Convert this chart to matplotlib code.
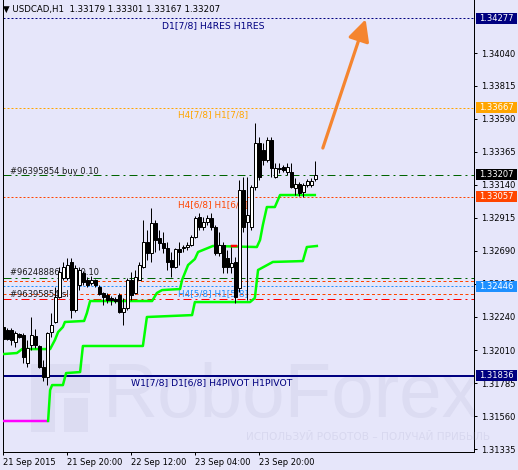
import matplotlib
matplotlib.use("Agg")
import matplotlib.pyplot as plt
from matplotlib.patches import Rectangle

plt.rcParams['lines.scale_dashes'] = False
plt.rcParams['font.family'] = ['DejaVu Sans']

# ---------------- data ----------------
opens = [1.32169, 1.32148, 1.32148, 1.32066, 1.32121, 1.32114, 1.31923, 1.32046, 1.32107, 1.32039,
         1.31895, 1.31827, 1.32134, 1.32203, 1.32373, 1.32503, 1.32503, 1.32613, 1.32285, 1.32455,
         1.32537, 1.32490, 1.32469, 1.32490, 1.32442, 1.32401, 1.32387, 1.32367, 1.32360, 1.32387,
         1.32271, 1.32298, 1.32490, 1.32401, 1.32490, 1.32578, 1.32749, 1.32674, 1.32879, 1.32776,
         1.32742, 1.32708, 1.32626, 1.32578, 1.32701, 1.32708, 1.32715, 1.32729, 1.32783, 1.32920,
         1.32852, 1.32886, 1.32913, 1.32852, 1.32674, 1.32729, 1.32640, 1.32578, 1.32613, 1.32435,
         1.33104, 1.32886, 1.32852, 1.33125, 1.33425, 1.33378, 1.33309, 1.33446, 1.33193, 1.33248,
         1.33261, 1.33227, 1.33227, 1.33118, 1.33145, 1.33091, 1.33138, 1.33138, 1.33179]
highs = [1.32182, 1.32162, 1.32162, 1.32141, 1.32128, 1.32128, 1.32080, 1.32237, 1.32155, 1.32046,
         1.31943, 1.32134, 1.32264, 1.32442, 1.32578, 1.32613, 1.32640, 1.32640, 1.32592, 1.32578,
         1.32551, 1.32510, 1.32517, 1.32497, 1.32455, 1.32408, 1.32401, 1.32380, 1.32373, 1.32401,
         1.32367, 1.32503, 1.32544, 1.32558, 1.32613, 1.32899, 1.32831, 1.32981, 1.32899, 1.32831,
         1.32817, 1.32749, 1.32681, 1.32708, 1.32749, 1.32729, 1.32749, 1.32797, 1.32927, 1.32947,
         1.32920, 1.32934, 1.32947, 1.32865, 1.32817, 1.32749, 1.32695, 1.32715, 1.32647, 1.33173,
         1.33193, 1.33193, 1.33138, 1.33562, 1.33466, 1.33425, 1.33466, 1.33466, 1.33289, 1.33289,
         1.33275, 1.33289, 1.33289, 1.33186, 1.33159, 1.33152, 1.33179, 1.33186, 1.33301]
lows = [1.32073, 1.32080, 1.32046, 1.32032, 1.32094, 1.31923, 1.31895, 1.32012, 1.32025, 1.31888,
        1.31800, 1.31772, 1.32100, 1.32196, 1.32367, 1.32490, 1.32490, 1.32230, 1.32271, 1.32421,
        1.32455, 1.32442, 1.32455, 1.32442, 1.32387, 1.32319, 1.32333, 1.32319, 1.32333, 1.32264,
        1.32182, 1.32285, 1.32353, 1.32394, 1.32490, 1.32572, 1.32626, 1.32613, 1.32681, 1.32695,
        1.32674, 1.32558, 1.32510, 1.32572, 1.32592, 1.32681, 1.32695, 1.32722, 1.32776, 1.32831,
        1.32831, 1.32865, 1.32831, 1.32660, 1.32654, 1.32537, 1.32537, 1.32537, 1.32333, 1.32408,
        1.32817, 1.32353, 1.32831, 1.33104, 1.33173, 1.33275, 1.33296, 1.33193, 1.33186, 1.33220,
        1.33227, 1.33207, 1.33118, 1.33070, 1.33063, 1.33056, 1.33125, 1.33125, 1.33167]
closes = [1.32087, 1.32087, 1.32080, 1.32128, 1.32100, 1.31964, 1.32025, 1.32114, 1.32046, 1.31895,
          1.31827, 1.32128, 1.32182, 1.32373, 1.32544, 1.32578, 1.32592, 1.32285, 1.32572, 1.32558,
          1.32476, 1.32455, 1.32490, 1.32455, 1.32394, 1.32373, 1.32353, 1.32353, 1.32346, 1.32271,
          1.32298, 1.32490, 1.32387, 1.32510, 1.32592, 1.32749, 1.32674, 1.32879, 1.32763, 1.32742,
          1.32708, 1.32613, 1.32578, 1.32701, 1.32681, 1.32715, 1.32729, 1.32783, 1.32913, 1.32852,
          1.32886, 1.32913, 1.32852, 1.32674, 1.32729, 1.32578, 1.32578, 1.32606, 1.32373, 1.33104,
          1.32852, 1.32934, 1.33125, 1.33425, 1.33193, 1.33309, 1.33446, 1.33255, 1.33255, 1.33255,
          1.33241, 1.33261, 1.33125, 1.33145, 1.33084, 1.33138, 1.33167, 1.33167, 1.33207]

# stepped indicator lines (bar index, price)
upper_x = [0, 3.4, 4.7, 11.7, 12.9, 13.7, 14.9, 15.4, 20.2, 20.9, 21.7, 37.2, 38.4, 39.7, 44.2,
           44.7, 46.2, 47.9, 48.7, 52.4, 63.4, 64.2, 64.9, 65.9, 67.9, 69.2, 77.9]
upper_y = [1.31984, 1.31991, 1.32018, 1.32018, 1.32080, 1.32134, 1.32169, 1.32203, 1.32210, 1.32264,
           1.32346, 1.32346, 1.32401, 1.32421, 1.32428, 1.32490, 1.32592, 1.32633, 1.32681, 1.32722,
           1.32715, 1.32763, 1.32865, 1.32988, 1.32988, 1.33070, 1.33070]
upper_red_x = [57.2, 58.2]
upper_red_y = [1.32722, 1.32722]
lower_x = [11.2, 11.7, 12.2, 14.9, 15.7, 19.2, 19.9, 34.9, 35.9, 47.2, 47.9, 61.7, 62.9, 63.7,
           67.4, 74.9, 75.9, 78.4]
lower_y = [1.31527, 1.31738, 1.31772, 1.31772, 1.31854, 1.31861, 1.32039, 1.32039, 1.32237, 1.32250,
           1.32339, 1.32339, 1.32367, 1.32558, 1.32613, 1.32619, 1.32715, 1.32722]
magenta_x = [-0.5, 11.2]
magenta_y = [1.31527, 1.31527]

# horizontal levels
lvl_res = 1.34277
lvl_78 = 1.33667
lvl_buy1 = 1.33207
lvl_68 = 1.33057
lvl_buy2 = 1.32500
lvl_red1 = 1.32480
lvl_58 = 1.32446
lvl_red2 = 1.32393
lvl_sl = 1.32357
lvl_pivot = 1.31836

y_ticks = [1.31335, 1.31560, 1.31785, 1.32010, 1.32240, 1.32465, 1.32690, 1.32915,
           1.33140, 1.33365, 1.33590, 1.33815, 1.34040]
x_tick_pos = [0, 16, 32, 48, 64]
x_tick_labels = ["21 Sep 2015", "21 Sep 20:00", "22 Sep 12:00", "23 Sep 04:00", "23 Sep 20:00"]

price_tags = [(1.34277, '#000080'), (1.33667, '#FFA500'), (1.33207, '#000000'),
              (1.33057, '#FF4500'), (1.32446, '#1E90FF'), (1.31836, '#000080')]

title_text = "\u25BC USDCAD,H1  1.33179 1.33301 1.33167 1.33207"

# ---------------- figure ----------------
BG = '#E6E6FA'
fig = plt.figure(figsize=(5.18, 4.70), dpi=100, facecolor=BG)
ax = fig.add_axes([3 / 518, 18 / 470, 471 / 518, 452 / 470])
ax.set_facecolor(BG)
ax.set_xlim(-0.08, 117.7)
ax.set_ylim(1.31315, 1.34402)

FS = 6.0
WM = '#DCDCF2'

# watermark
ax.text(0.612, 0.12, "RoboForex", transform=ax.transAxes, fontsize=55, color=WM,
        ha='center', va='center', zorder=0, family='Liberation Sans', clip_on=True)
ax.add_patch(Rectangle((0.06, 0.045), 0.05, 0.15, transform=ax.transAxes,
                       facecolor=WM, edgecolor='none', zorder=0))
ax.add_patch(Rectangle((0.11, 0.13), 0.075, 0.065, transform=ax.transAxes,
                       facecolor=WM, edgecolor='none', zorder=0))
ax.add_patch(Rectangle((0.13, 0.045), 0.05, 0.075, transform=ax.transAxes,
                       facecolor=WM, edgecolor='none', zorder=0))
fig.text(490 / 518, 1 - 437 / 470, "ИСПОЛЬЗУЙ РОБОТОВ \u2013 ПОЛУЧАЙ ПРИБЫЛЬ",
         fontsize=7.6, color='#D8D8EF', ha='right', va='center', zorder=0)

px = 1.0 / 1.389  # points per pixel at 100 dpi
dot = (0, (2 * px, 2 * px))
dashdot = (0, (8 * px, 4 * px, 2 * px, 4 * px))
dash = (0, (3 * px, 2.5 * px))

ax.axhline(lvl_res, color='#000080', lw=px, ls=dot, zorder=1)
ax.axhline(lvl_78, color='#FFA500', lw=px, ls=dot, zorder=1)
ax.axhline(lvl_buy1, color='#006400', lw=px, ls=dashdot, zorder=1)
ax.axhline(lvl_68, color='#FF4500', lw=px, ls=dot, zorder=1)
ax.axhline(lvl_buy2, color='#006400', lw=px, ls=dashdot, zorder=1)
ax.axhline(lvl_red1, color='#FF4500', lw=px, ls=dash, zorder=1)
ax.axhline(lvl_58, color='#1E90FF', lw=px, ls=dot, zorder=1)
ax.axhline(lvl_red2, color='#FF4500', lw=px, ls=dash, zorder=1)
ax.axhline(lvl_sl, color='#FF0000', lw=px, ls=dashdot, zorder=1)
ax.axhline(lvl_pivot, color='#000080', lw=2 * px, zorder=1)

# level labels
def lab(x, y, s, c, fs=FS):
    ax.text(x, y, s, color=c, fontsize=fs, ha='left', va='center', zorder=2)

lab(39.7, 1.34224, "D1[7/8] H4RES H1RES", '#000080', 6.7)
lab(43.7, 1.33617, "H4[7/8] H1[7/8]", '#FFA500', 6.4)
lab(1.7, 1.33234, "#96395854 buy 0.10", '#1a1a1a')
lab(43.7, 1.33002, "H4[6/8] H1[6/8]", '#FF4500', 6.4)
lab(1.7, 1.32544, "#96248886 buy 0.10", '#1a1a1a')
lab(1.7, 1.32394, "#96395854 sl", '#1a1a1a')
lab(43.7, 1.32394, "H4[5/8] H1[5/8]", '#1E90FF', 6.4)
lab(31.9, 1.31786, "W1[7/8] D1[6/8] H4PIVOT H1PIVOT", '#000080', 6.7)

# indicator lines
ax.plot(magenta_x, magenta_y, color='#FF00FF', lw=2.5 * px, zorder=3, solid_capstyle='butt')
ax.plot(upper_x, upper_y, color='#00FF00', lw=2.5 * px, zorder=3)
ax.plot(lower_x, lower_y, color='#00FF00', lw=2.5 * px, zorder=3)
ax.plot(upper_red_x, upper_red_y, color='#FF0000', lw=2.5 * px, zorder=3)

# candles
idx = list(range(len(opens)))
ax.vlines(idx, lows, highs, color='black', lw=px, zorder=4)
for i in idx:
    o, c = opens[i], closes[i]
    bull = c >= o
    ax.bar(i, abs(c - o) if abs(c - o) > 0 else 0.00002, bottom=min(o, c), width=0.7,
           color='white' if bull else 'black', edgecolor='black', linewidth=px, zorder=5)

# arrow
ax.annotate("", xy=(90.6, 1.34270), xytext=(79.9, 1.33391),
            arrowprops=dict(arrowstyle='-|>,head_length=1.3,head_width=0.65', color='#F5852F',
                            lw=3.2 * px, shrinkA=0, shrinkB=0), zorder=6)

# title
ax.text(0.006, 1.34337, title_text, fontsize=6.2, color='black', ha='left', va='center', zorder=7)

# axes styling
for s in ['left', 'right', 'bottom']:
    ax.spines[s].set_linewidth(px)
    ax.spines[s].set_color('black')
ax.spines['top'].set_visible(False)
ax.yaxis.tick_right()
ax.set_yticks(y_ticks)
ax.set_yticklabels([f"{v:.5f}" for v in y_ticks])
ax.tick_params(axis='y', direction='out', length=3 * px, width=px, pad=3, labelsize=FS)
ax.set_xticks(x_tick_pos)
ax.set_xticklabels(x_tick_labels, ha='left')
ax.tick_params(axis='x', direction='out', length=3 * px, width=px, pad=2, labelsize=FS)

# price tags on the right axis
tr = ax.get_yaxis_transform()
box_h = 11 * 0.0000683
for val, col in price_tags:
    ax.add_patch(Rectangle((1.0042, val - box_h / 2), 41 / 471, box_h, transform=tr,
                           facecolor=col, edgecolor='none', clip_on=False, zorder=10))
    ax.text(1.0478, val, f"{val:.5f}", transform=tr, color='white', fontsize=FS,
            ha='center', va='center', clip_on=False, zorder=11)

fig.savefig("out.png", dpi=100, facecolor=BG)
